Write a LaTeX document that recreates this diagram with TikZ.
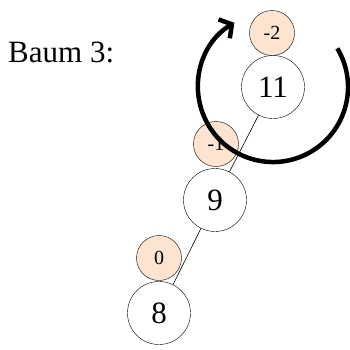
\documentclass[tikz,border=0pt]{standalone}
\usepackage{fontspec}
\setmainfont{Liberation Serif}
\usetikzlibrary{arrows.meta}
\definecolor{bal}{RGB}{252,228,208}
\begin{document}
\begin{tikzpicture}[x=1pt,y=-1pt,
  keynode/.style={circle,draw=black,fill=white,minimum size=63pt,inner sep=0pt,font=\fontsize{31}{31}\selectfont},
  balnode/.style={circle,draw=black,fill=bal,minimum size=45pt,inner sep=0pt,font=\fontsize{20}{20}\selectfont},
  edge/.style={draw=black,line width=0.6pt},
  rot/.style={line width=4.5pt,-{Straight Barb[length=9pt,width=22pt]}}]
\useasboundingbox (0,0) rectangle (350,349);
\node[anchor=base west,inner sep=0pt,font=\fontsize{31}{31}\selectfont] (baum) at (8,62) {Baum 3:};
\node[balnode] (m2) at (272,33) {-2};
\node[balnode] (m1) at (216,144) {-1};
\node[balnode] (z0) at (159,258) {0};
\node[keynode] (n11) at (273,87) {11};
\node[keynode] (n9) at (215,200) {9};
\node[keynode] (n8) at (159,313) {8};
\draw[edge] (n11) -- (n9);
\draw[edge] (n9) -- (n8);
\coordinate (s) at (337.3,48.4);
\draw[rot] (s) arc[start angle=-31,end angle=239,radius=75];
\end{tikzpicture}
\end{document}
